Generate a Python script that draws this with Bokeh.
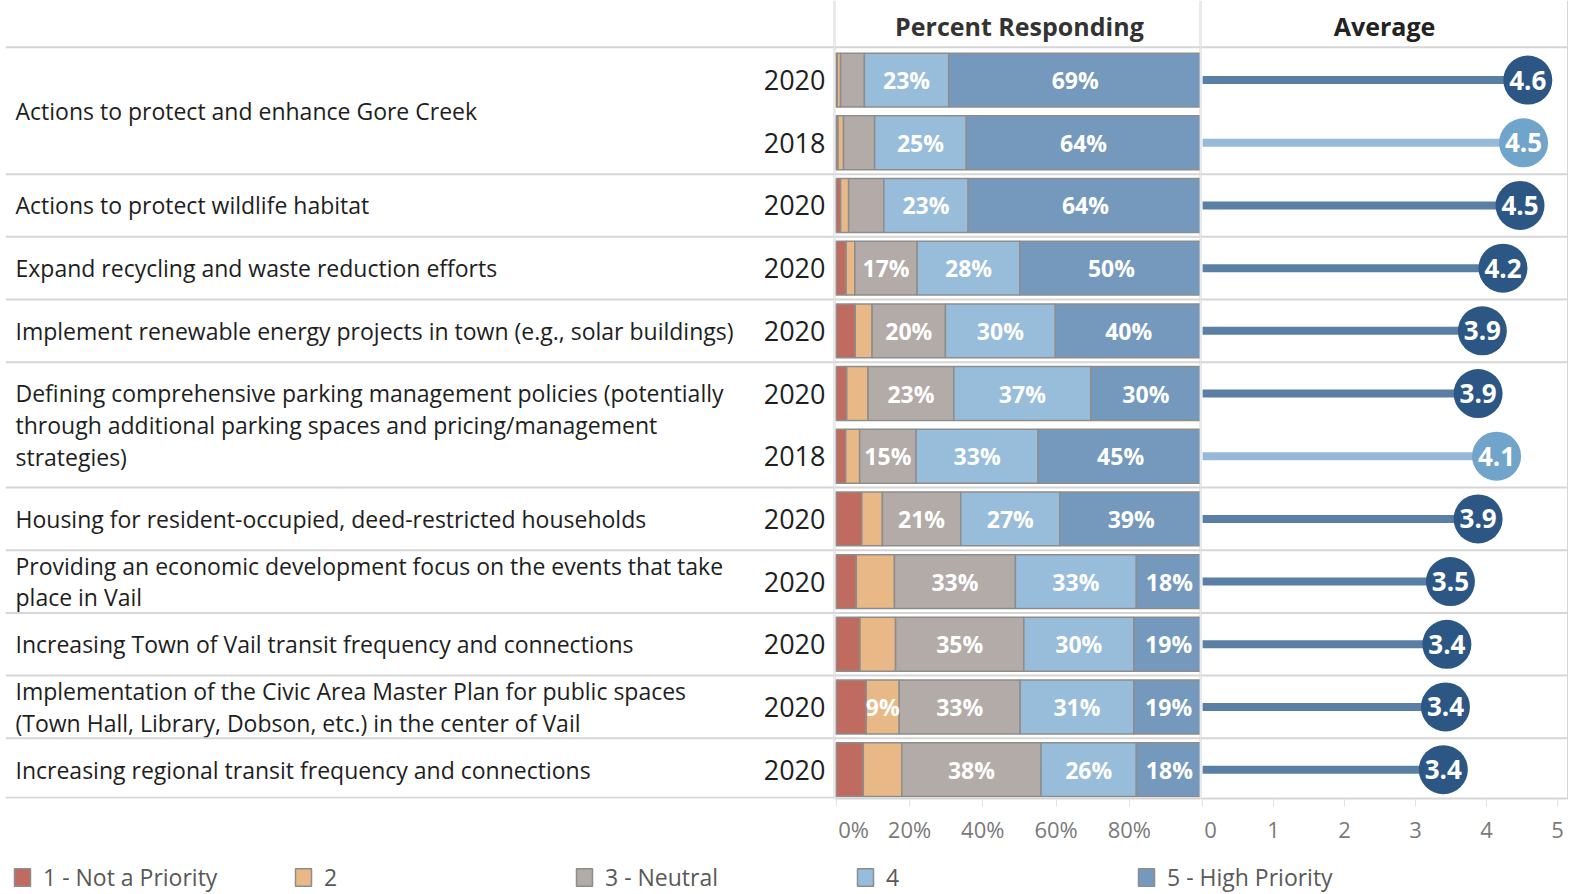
import numpy as np
from bokeh.plotting import figure
from bokeh.layouts import column, row
from bokeh.models import ColumnDataSource, Range1d, Span, Label, FixedTicker, Legend, LegendItem
from bokeh.core.properties import value
from bokeh.embed import file_html
from bokeh.resources import INLINE

# ---------------- data ----------------
topics = [
    "Actions to protect and enhance Gore Creek",
    "Actions to protect wildlife habitat",
    "Expand recycling and waste reduction efforts",
    "Implement renewable energy projects in town (e.g., solar buildings)",
    "Defining comprehensive parking management policies (potentially\nthrough additional parking spaces and pricing/management\nstrategies)",
    "Housing for resident-occupied, deed-restricted households",
    "Providing an economic development focus on the events that take\nplace in Vail",
    "Increasing Town of Vail transit frequency and connections",
    "Implementation of the Civic Area Master Plan for public spaces\n(Town Hall, Library, Dobson, etc.) in the center of Vail",
    "Increasing regional transit frequency and connections",
]
row_topic = [0, 0, 1, 2, 3, 4, 4, 5, 6, 7, 8, 9]
row_year = ["2020", "2018", "2020", "2020", "2020", "2020", "2018", "2020", "2020", "2020", "2020", "2020"]

pct_1 = [0.3, 0.5, 1.2, 2.7, 5.2, 2.9, 2.6, 7.0, 5.5, 6.5, 8.2, 7.4]
pct_2 = [0.9, 1.5, 2.2, 2.4, 4.6, 5.8, 3.8, 5.6, 10.4, 9.7, 9.0, 10.5]
pct_3 = [6.5, 8.5, 9.6, 17.0, 20.0, 23.4, 15.4, 21.4, 33.0, 35.0, 33.0, 38.0]
pct_4 = [23.0, 25.0, 23.0, 28.0, 30.0, 37.4, 33.3, 27.0, 33.0, 30.0, 31.0, 26.0]
pct_5 = [69.0, 64.0, 64.0, 50.0, 40.0, 30.0, 45.0, 39.0, 18.0, 19.0, 19.0, 18.0]

lab_1 = [""] * 12
lab_2 = ["", "", "", "", "", "", "", "", "", "", "9%", ""]
lab_3 = ["", "", "", "17%", "20%", "23%", "15%", "21%", "33%", "35%", "33%", "38%"]
lab_4 = ["23%", "25%", "23%", "28%", "30%", "37%", "33%", "27%", "33%", "30%", "31%", "26%"]
lab_5 = ["69%", "64%", "64%", "50%", "40%", "30%", "45%", "39%", "18%", "19%", "19%", "18%"]

avg = [4.58, 4.52, 4.47, 4.23, 3.94, 3.88, 4.14, 3.88, 3.49, 3.44, 3.42, 3.39]

levels = ["1 - Not a Priority", "2", "3 - Neutral", "4", "5 - High Priority"]
level_colors = ["#c06b5f", "#e9b887", "#b2aba7", "#98bddb", "#7499bd"]

pct_ticks = [0, 20, 40, 60, 80]
pct_tick_labels = ["0%", "20%", "40%", "60%", "80%"]
avg_ticks = [0, 1, 2, 3, 4, 5]
avg_tick_labels = ["0", "1", "2", "3", "4", "5"]

line_colors = {"2020": "#5a7fa4", "2018": "#95b9d7"}
dot_colors = {"2020": "#2c5784", "2018": "#70a4cb"}

# ---------------- layout constants ----------------
FONT = "Open Sans"
ROW_PX = 63.0
FRAME_H = 802
BOTTOM = 44
Y_TOP = -80.0 / ROW_PX
Y_BOT = Y_TOP + FRAME_H / ROW_PX
HEADER_LINE_Y = -33.0 / ROW_PX
HEADER_TEXT_Y = -54.0 / ROW_PX
W_LEFT, W_BAR, W_AVG = 834, 366, 368
LEFT_PAD = 5
GRID_C = "#d6d6d6"
PAD_THIN = "\u2009"   # pads the first tick label so it sits just right of its tick

ys = np.arange(len(row_year), dtype=float)
yr = Range1d(Y_BOT, Y_TOP)

seps = [i - 0.5 for i in range(1, len(row_topic)) if row_topic[i] != row_topic[i - 1]]


def make_fig(width, xr, with_axis, border_left=0):
    p = figure(width=width, height=FRAME_H + BOTTOM, x_range=xr, y_range=yr,
               output_backend="svg", toolbar_location=None,
               x_axis_location="below" if with_axis else None, y_axis_location=None,
               min_border_left=border_left, min_border_right=0, min_border_top=0,
               min_border_bottom=BOTTOM)
    p.outline_line_color = None
    p.xgrid.visible = False
    p.ygrid.visible = False
    p.background_fill_color = "white"
    p.border_fill_color = "white"
    for s in seps:
        p.add_layout(Span(location=s, dimension="width", line_color=GRID_C, line_width=2))
    p.add_layout(Span(location=HEADER_LINE_Y, dimension="width", line_color=GRID_C, line_width=2))
    if with_axis:
        ax = p.xaxis[0]
        ax.axis_line_color = GRID_C
        ax.axis_line_width = 2
        ax.major_tick_line_color = "#e3e3e3"
        ax.major_tick_out = 8
        ax.major_tick_in = 0
        ax.minor_tick_line_color = None
        ax.major_label_standoff = 7
        ax.major_label_text_font = FONT
        ax.major_label_text_font_size = "22px"
        ax.major_label_text_color = "#7a7a7a"
    else:
        p.add_layout(Span(location=Y_BOT - 0.01, dimension="width", line_color=GRID_C, line_width=2))
    return p


# ---------------- left panel: labels ----------------
left = make_fig(W_LEFT, Range1d(0, 1), False, border_left=LEFT_PAD)
topic_y = [float(np.mean([ys[i] for i in range(len(row_topic)) if row_topic[i] == t])) for t in range(len(topics))]
left.text(x=[0] * len(topics), y=topic_y, text=topics, x_offset=10,
          text_align="left", text_baseline="middle", text_font=value(FONT),
          text_font_size="23px", text_color="#1e1e1e", text_line_height=0.99)
left.text(x=[1] * len(row_year), y=ys, text=row_year, x_offset=-9,
          text_align="right", text_baseline="middle", text_font=value(FONT),
          text_font_size="27px", text_color="#1e1e1e")
left.add_layout(Span(location=1, dimension="height", line_color=GRID_C, line_width=2))

# ---------------- bar panel ----------------
PCT_START = -0.46
PCT_END = PCT_START + 100.0 * W_BAR / 366.5
bar = make_fig(W_BAR, Range1d(PCT_START, PCT_END), True)
stack = np.array([pct_1, pct_2, pct_3, pct_4, pct_5]).T
src = ColumnDataSource(dict(y=ys, p1=pct_1, p2=pct_2, p3=pct_3, p4=pct_4, p5=pct_5))
bar.hbar_stack(["p1", "p2", "p3", "p4", "p5"], y="y", height=0.86, source=src,
               fill_color=level_colors, line_color="#8d8d8d", line_width=1.5)
cum = np.cumsum(stack, axis=1)
centers = cum - stack / 2.0
labs = np.array([lab_1, lab_2, lab_3, lab_4, lab_5]).T
lx, ly, lt = [], [], []
for i in range(stack.shape[0]):
    for j in range(stack.shape[1]):
        if labs[i, j]:
            lx.append(float(centers[i, j]))
            ly.append(float(ys[i]))
            lt.append(str(labs[i, j]))
bar.text(x=lx, y=ly, text=lt, text_align="center", text_baseline="middle",
         text_font=value(FONT), text_font_style="bold", text_font_size="23px",
         text_color="white")
bar.xaxis[0].ticker = FixedTicker(ticks=pct_ticks)
bar.xaxis[0].major_label_overrides = {t: (PAD_THIN + l if t == 0 else l) for t, l in zip(pct_ticks, pct_tick_labels)}
bar.add_layout(Label(x=50, y=HEADER_TEXT_Y, text="Percent Responding", text_align="center",
                     text_baseline="middle", text_font=FONT, text_font_style="bold",
                     text_font_size="25px", text_color="#333333"))
bar.add_layout(Span(location=PCT_START, dimension="height", line_color=GRID_C, line_width=2))
bar.add_layout(Span(location=PCT_END, dimension="height", line_color=GRID_C, line_width=2))

# ---------------- average panel ----------------
AVG_START = -0.03
AVG_PX = 71.0
AVG_END = AVG_START + W_AVG / AVG_PX
av = make_fig(W_AVG, Range1d(AVG_START, AVG_END), True)
asrc = ColumnDataSource(dict(
    y=ys, x0=[0.0] * len(avg), avg=avg,
    lc=[line_colors[yv] for yv in row_year],
    dc=[dot_colors[yv] for yv in row_year],
    txt=["%.1f" % round(a, 1) for a in avg],
))
av.segment(x0="x0", y0="y", x1="avg", y1="y", line_color="lc", line_width=8, source=asrc)
av.scatter(x="avg", y="y", size=49, fill_color="dc", line_color=None, source=asrc)
av.text(x="avg", y="y", text="txt", text_align="center", text_baseline="middle",
        text_font=value(FONT), text_font_style="bold", text_font_size="26px",
        text_color="white", source=asrc)
av.xaxis[0].ticker = FixedTicker(ticks=avg_ticks)
av.xaxis[0].major_label_overrides = {t: (PAD_THIN + l if t == 0 else l) for t, l in zip(avg_ticks, avg_tick_labels)}
av.add_layout(Label(x=(AVG_START + AVG_END) / 2.0, y=HEADER_TEXT_Y, text="Average", text_align="center",
                    text_baseline="middle", text_font=FONT, text_font_style="bold",
                    text_font_size="25px", text_color="#222222"))
av.add_layout(Span(location=AVG_START, dimension="height", line_color=GRID_C, line_width=2))
av.add_layout(Span(location=AVG_END, dimension="height", line_color=GRID_C, line_width=3))

# ---------------- legend ----------------
lf = figure(width=W_LEFT + W_BAR + W_AVG, height=47, x_range=Range1d(0, 1), y_range=Range1d(0, 1),
            output_backend="svg", toolbar_location=None, x_axis_location=None,
            y_axis_location=None, min_border=0)
lf.outline_line_color = None
lf.xgrid.visible = False
lf.ygrid.visible = False
items = []
for lev, c in zip(levels, level_colors):
    # swatch glyph kept outside the visible range; only its legend entry is shown
    r = lf.quad(left=[5], right=[6], top=[6], bottom=[5], fill_color=c,
                line_color="#8d8d8d", line_width=1.5)
    items.append(LegendItem(label=lev, renderers=[r]))
leg = Legend(items=items, orientation="horizontal", location=(12, 0),
             glyph_width=20, glyph_height=22, label_standoff=11, label_width=230,
             spacing=20, padding=0, margin=0, border_line_color=None,
             background_fill_alpha=0, label_text_font=FONT,
             label_text_font_size="23px", label_text_color="#595959")
lf.add_layout(leg)

layout = column(row(left, bar, av), lf)
open("out.html", "w").write(file_html(layout, INLINE))
